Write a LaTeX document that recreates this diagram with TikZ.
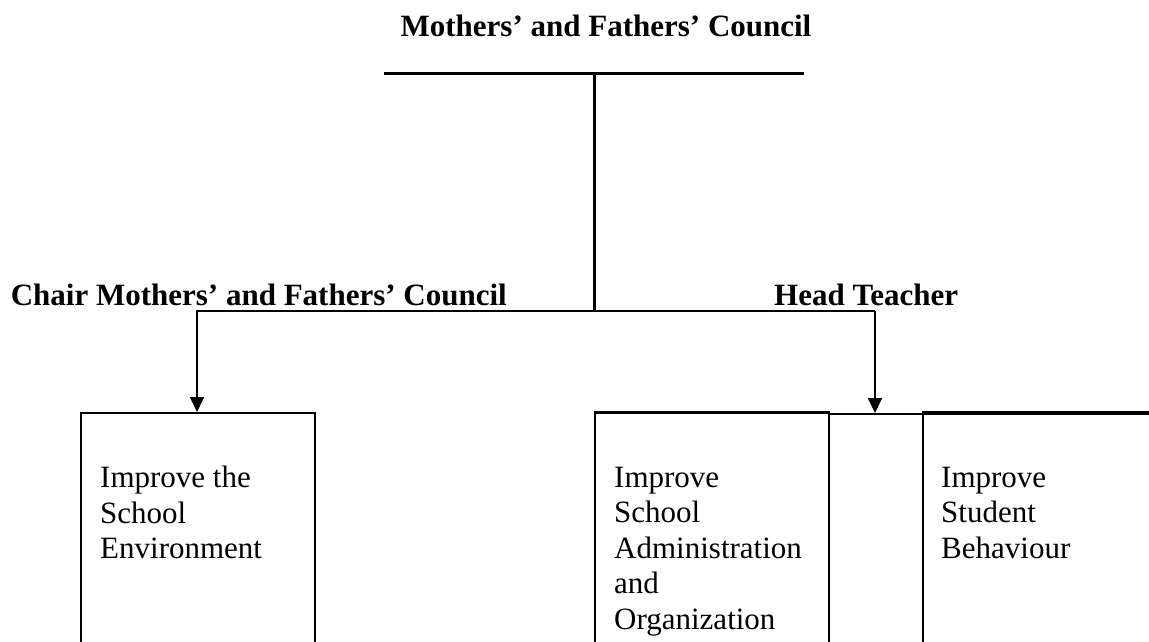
\documentclass[tikz,border=0pt]{standalone}
\usepackage{fontspec}
\setmainfont{Liberation Serif}
\usetikzlibrary{arrows.meta}

\tikzset{
  heading/.style={font=\fontsize{31}{35.5}\selectfont\bfseries, inner sep=0pt},
  boxtext/.style={font=\fontsize{31}{35.5}\selectfont, align=left, inner sep=0pt, anchor=north west},
  heavy/.style={line width=3pt},
  thin/.style={line width=1.6pt},
  taskbox/.style={draw, thin, minimum height=300pt, anchor=north west, inner sep=0pt},
  branch/.style={line width=1.8pt, -{Triangle[length=15pt,width=14pt]}},
}

\begin{document}
\begin{tikzpicture}[x=1pt,y=-1pt]
\useasboundingbox (0,0) rectangle (1149,641);
\clip (0,0) rectangle (1149,641);

% council heading and its bar
\node[heading, anchor=base] (council) at (606,36) {Mothers’ and Fathers’ Council};
\coordinate (barL) at (384,73);
\coordinate (barR) at (804,73);
\coordinate (barM) at (594,73);

% the two office holders
\node[heading, anchor=base east] (chair) at (507,305) {Chair Mothers’ and Fathers’ Council};
\node[heading, anchor=base west] (head) at (774,305) {Head Teacher};

% task boxes
\node[taskbox, minimum width=234pt] (env) at (80,412) {};
\node[taskbox, minimum width=234pt] (admin) at (594,412) {};
\node[taskbox, minimum width=94pt] (link) at (828,413) {};
\node[taskbox, minimum width=260pt] (behav) at (922,413) {};
\draw[heavy] (admin.north west) -- (admin.north east);
\draw[line width=4pt] (behav.north west) -- (behav.north east);

\node[boxtext] (envtext) at (100,466) {Improve the\\School\\Environment};
\node[boxtext] (admintext) at (614,466.5) {Improve\\School\\Administration\\and\\Organization};
\node[boxtext] (behavtext) at (941,466.5) {Improve\\Student\\Behaviour};

% branch connector with arrows into the boxes
\coordinate (splitL) at (197,311);
\coordinate (splitR) at (875,311);
\draw[heavy] (barL) -- (barR);
\draw[heavy] (barM) -- (barM |- splitL);
\draw[branch] (splitR) -- (splitL) -- (env.north -| splitL);
\draw[branch] (splitR) -- (link.north -| splitR);
\end{tikzpicture}
\end{document}
